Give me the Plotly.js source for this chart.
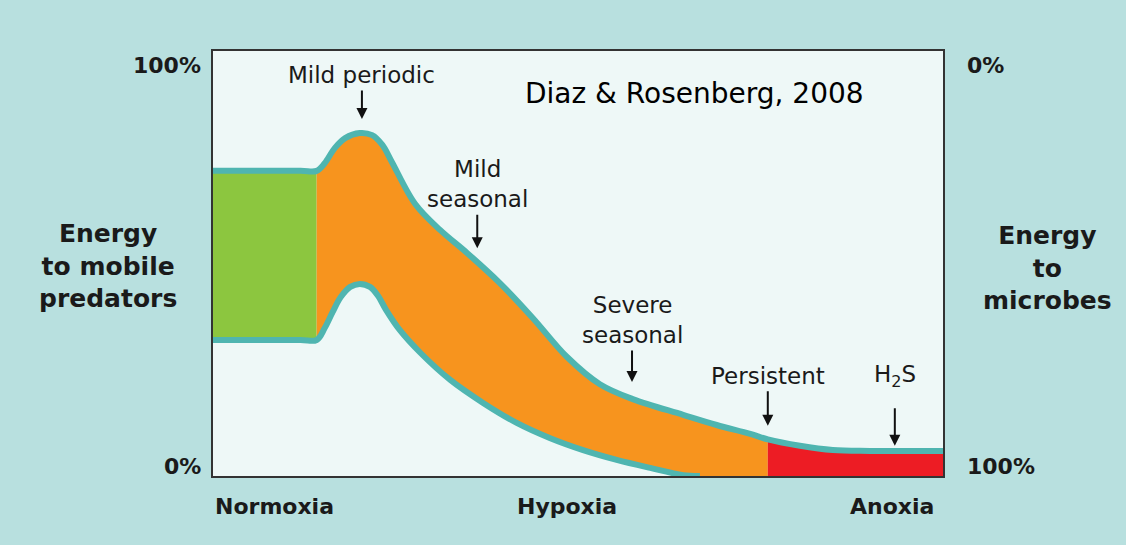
<!DOCTYPE html>
<html><head><meta charset="utf-8">
<script src="https://cdn.plot.ly/plotly-3.0.1.min.js"></script>
<style>html,body{margin:0;padding:0;background:#b8e0df;}</style>
</head><body>
<div id="chart" style="width:1126px;height:545px;"></div>
<script>
// Upper boundary (top of band), % scale
const upperX = [0, 12.0, 14.2, 15.3, 16.7, 18.1, 20.1, 21.8, 23.2, 24.5, 27.7, 31.1, 34.8, 39.3, 43.8, 48.5, 53.0, 57.5, 64.4, 69.0, 73.6, 76.0, 80.4, 84.9, 90.0, 100];
const upperY = [71.8, 71.8, 71.8, 73.6, 77.2, 79.5, 80.7, 80.2, 77.9, 73.9, 64.0, 57.9, 52.5, 45.4, 37.2, 28.0, 21.6, 18.1, 14.4, 12.0, 9.9, 8.6, 7.1, 6.1, 5.9, 5.9];
// Lower boundary
const lowerX = [0, 12.0, 14.2, 15.3, 16.4, 17.5, 18.8, 20.1, 21.5, 22.6, 23.7, 25.6, 28.4, 32.5, 37.0, 41.6, 46.2, 50.7, 55.3, 59.9, 64.4, 66.7];
const lowerY = [32.0, 32.0, 32.0, 34.8, 38.6, 42.1, 44.5, 45.2, 44.5, 42.4, 39.1, 34.3, 29.0, 22.6, 17.2, 12.5, 8.9, 6.1, 3.8, 1.9, 0.2, 0];
// Regime boundaries
const normoxiaEnd = 14.2;
const anoxiaStart = 76.0;
// Stage labels with arrows
const stageLabels = ["Mild periodic", "Mild<br>seasonal", "Severe<br>seasonal", "Persistent", "H<sub>2</sub>S"];
const stageX = [20.4, 36.2, 57.4, 76.0, 93.4];
const arrowTipY = [84.0, 53.6, 22.1, 11.8, 7.1];
const zoneLabels = ["Normoxia", "Hypoxia", "Anoxia"];
const leftTicks = ["100%", "0%"];
const rightTicks = ["0%", "100%"];

function slice(xs, ys, a, b) {
  const ox = [], oy = [];
  for (let i = 0; i < xs.length; i++) {
    if (xs[i] >= a - 1e-9 && xs[i] <= b + 1e-9) { ox.push(xs[i]); oy.push(ys[i]); }
  }
  return [ox, oy];
}

const teal = '#4fb5b0', green = '#8cc63f', orange = '#f7941e', red = '#ed1c24';
const traces = [];
const SM = 1.0;
const none = {width: 0, shape: 'spline', smoothing: SM};

// Green region
let [gux, guy] = slice(upperX, upperY, 0, normoxiaEnd);
let [glx, gly] = slice(lowerX, lowerY, 0, normoxiaEnd);
traces.push({x: glx, y: gly, mode: 'lines', line: none, hoverinfo: 'skip'});
traces.push({x: gux, y: guy, mode: 'lines', line: none, fill: 'tonexty', fillcolor: green, hoverinfo: 'skip'});

// Orange region
let [oux, ouy] = slice(upperX, upperY, normoxiaEnd, anoxiaStart);
let [olx, oly] = slice(lowerX, lowerY, normoxiaEnd, anoxiaStart);
olx = olx.concat([anoxiaStart]); oly = oly.concat([0]);
traces.push({x: olx, y: oly, mode: 'lines', line: none, hoverinfo: 'skip'});
traces.push({x: oux, y: ouy, mode: 'lines', line: none, fill: 'tonexty', fillcolor: orange, hoverinfo: 'skip'});

// Red region
let [rux, ruy] = slice(upperX, upperY, anoxiaStart, 100);
traces.push({x: [anoxiaStart, 100], y: [0, 0], mode: 'lines', line: {width: 0}, hoverinfo: 'skip'});
traces.push({x: rux, y: ruy, mode: 'lines', line: none, fill: 'tonexty', fillcolor: red, hoverinfo: 'skip'});

// Teal boundary lines
traces.push({x: upperX, y: upperY, mode: 'lines', line: {color: teal, width: 6, shape: 'spline', smoothing: SM}, hoverinfo: 'skip'});
traces.push({x: lowerX, y: lowerY, mode: 'lines', line: {color: teal, width: 6, shape: 'spline', smoothing: SM}, hoverinfo: 'skip'});

const FAM = 'DejaVu Sans, sans-serif';
const fReg = {family: FAM, size: 23, color: '#1a1a1a'};
const fBold = {family: FAM, size: 22, color: '#1a1a1a', weight: 'bold'};
const ann = [];
const arrowOffsets = [-44, -64, -62, -50, -70];
const tailGaps = [1, 1, 1, 1, 16];
for (let i = 0; i < stageLabels.length; i++) {
  ann.push({x: stageX[i], y: arrowTipY[i], xref: 'x', yref: 'y', text: stageLabels[i], showarrow: true,
    ax: 0, ay: arrowOffsets[i], arrowhead: 2, arrowsize: 1.1, arrowwidth: 2, arrowcolor: '#111', standoff: 0, startstandoff: tailGaps[i],
    font: fReg, xanchor: 'center', yanchor: 'middle'});
}
ann.push({x: 66.0, y: 90.1, xref: 'x', yref: 'y', text: 'Diaz &amp; Rosenberg, 2008', showarrow: false, font: {family: FAM, size: 28, color: '#000'}});
// tick-like labels
ann.push({x: -0.014, y: 0.965, xref: 'paper', yref: 'paper', text: '<b>' + leftTicks[0] + '</b>', showarrow: false, xanchor: 'right', yanchor: 'middle', font: fBold});
ann.push({x: -0.014, y: 0.0235, xref: 'paper', yref: 'paper', text: '<b>' + leftTicks[1] + '</b>', showarrow: false, xanchor: 'right', yanchor: 'middle', font: fBold});
ann.push({x: 1.030, y: 0.965, xref: 'paper', yref: 'paper', text: '<b>' + rightTicks[0] + '</b>', showarrow: false, xanchor: 'left', yanchor: 'middle', font: fBold});
ann.push({x: 1.030, y: 0.0235, xref: 'paper', yref: 'paper', text: '<b>' + rightTicks[1] + '</b>', showarrow: false, xanchor: 'left', yanchor: 'middle', font: fBold});
// side titles
ann.push({x: -0.1438, y: 0.494, xref: 'paper', yref: 'paper', text: '<b>Energy<br>to mobile<br>predators</b>', showarrow: false, xanchor: 'center', yanchor: 'middle', font: {family: FAM, size: 25, color: '#1a1a1a'}});
ann.push({x: 1.1438, y: 0.489, xref: 'paper', yref: 'paper', text: '<b>Energy<br>to<br>microbes</b>', showarrow: false, xanchor: 'center', yanchor: 'middle', font: {family: FAM, size: 25, color: '#1a1a1a'}});
// zone labels
ann.push({x: 0, y: -0.0706, xref: 'paper', yref: 'paper', text: '<b>' + zoneLabels[0] + '</b>', showarrow: false, xanchor: 'left', yanchor: 'middle', font: fBold});
ann.push({x: 0.485, y: -0.0706, xref: 'paper', yref: 'paper', text: '<b>' + zoneLabels[1] + '</b>', showarrow: false, xanchor: 'center', yanchor: 'middle', font: fBold});
ann.push({x: 0.990, y: -0.0706, xref: 'paper', yref: 'paper', text: '<b>' + zoneLabels[2] + '</b>', showarrow: false, xanchor: 'right', yanchor: 'middle', font: fBold});

const layout = {
  width: 1126, height: 545,
  margin: {l: 213, r: 183, t: 51, b: 69},
  paper_bgcolor: '#b8e0df',
  plot_bgcolor: '#eef8f7',
  showlegend: false,
  xaxis: {range: [0, 100], showgrid: false, zeroline: false, showticklabels: false, ticks: '', showline: true, mirror: true, linecolor: '#333', linewidth: 2, fixedrange: true},
  yaxis: {range: [0, 100], showgrid: false, zeroline: false, showticklabels: false, ticks: '', showline: true, mirror: true, linecolor: '#333', linewidth: 2, fixedrange: true},
  annotations: ann
};
Plotly.newPlot('chart', traces, layout, {displayModeBar: false, staticPlot: true});
</script>
</body></html>
